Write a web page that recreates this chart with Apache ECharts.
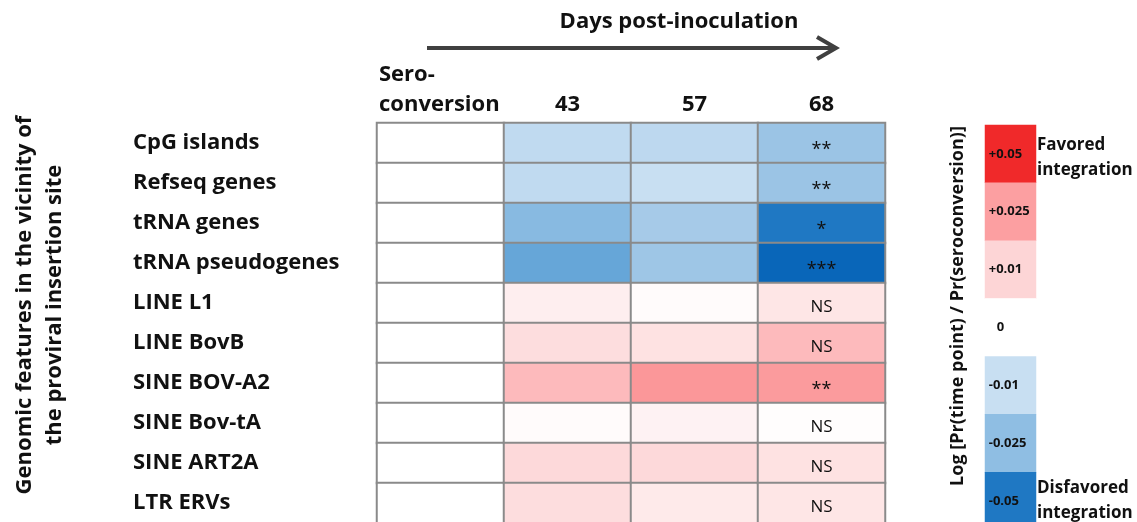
<!DOCTYPE html>
<html>
<head>
<meta charset="utf-8">
<script src="https://cdn.jsdelivr.net/npm/echarts@6/dist/echarts.min.js"></script>
<style>html,body{margin:0;padding:0;background:#fff}#c{width:1137px;height:522px}</style>
</head>
<body>
<div id="c"></div>
<script>
const rows = ['CpG islands','Refseq genes','tRNA genes','tRNA pseudogenes','LINE L1','LINE BovB','SINE BOV-A2','SINE Bov-tA','SINE ART2A','LTR ERVs'];
const colLabels = ['Sero-\nconversion','43','57','68'];
const sero = [0,0,0,0,0,0,0,0,0,0];
const d43 = [-0.012,-0.012,-0.027,-0.035,0.004,0.008,0.018,0.001,0.009,0.008];
const d57 = [-0.013,-0.010,-0.019,-0.021,0.001,0.007,0.027,0.003,0.009,0.005];
const d68 = [-0.022,-0.022,-0.050,-0.057,0.006,0.018,0.026,0.0005,0.007,0.006];
const sig68 = ['**','**','*','***','NS','NS','**','NS','NS','NS'];
const legendTicks = ['+0.05','+0.025','+0.01','0','-0.01','-0.025','-0.05'];
const legendValues = [0.05,0.025,0.01,0,-0.01,-0.025,-0.05];

const FONT = '"Open Sans", sans-serif';
const cols = [sero, d43, d57, d68];
const mainData = [];
cols.forEach((arr, xi) => arr.forEach((v, yi) => mainData.push([xi, yi, v])));
const legendData = legendValues.map((v, i) => [0, i, v]);

const chart = echarts.init(document.getElementById('c'));
chart.setOption({
  backgroundColor: '#fff',
  animation: false,
  grid: [
    {left: 377, width: 508, top: 123, height: 400, outerBoundsMode: 'none', containLabel: false},
    {left: 985, width: 51, top: 125, height: 405, outerBoundsMode: 'none', containLabel: false}
  ],
  xAxis: [
    {type: 'category', gridIndex: 0, position: 'top', data: colLabels,
     axisLine: {show: false}, axisTick: {show: false}, splitLine: {show: false},
     axisLabel: {interval: 0, margin: 3, color: '#111', fontFamily: FONT,
       formatter: (v) => v.indexOf('\n') >= 0 ? v.split('\n').map(s => '{a|' + s + '}').join('\n') : '{b|' + v + '}',
       rich: {
         a: {width: 123, align: 'left', fontSize: 22, fontWeight: 'bold', fontFamily: FONT, lineHeight: 30, color: '#111'},
         b: {fontSize: 22, fontWeight: 'bold', fontFamily: FONT, lineHeight: 30, color: '#111'}
       }}},
    {type: 'category', gridIndex: 1, data: ['k'], show: false}
  ],
  yAxis: [
    {type: 'category', gridIndex: 0, data: rows, inverse: true,
     axisLine: {show: false}, axisTick: {show: false}, splitLine: {show: false},
     axisLabel: {interval: 0, align: 'left', margin: 244, fontSize: 22, fontWeight: 'bold',
       fontFamily: FONT, color: '#111', padding: [0, 0, 4, 0]}},
    {type: 'category', gridIndex: 1, data: legendTicks, inverse: true, show: false}
  ],
  visualMap: {
    type: 'continuous', show: false, seriesIndex: [0, 1], dimension: 2,
    min: -0.06, max: 0.06,
    inRange: {color: ['#005fb5','#1f78c3','#4f98d2','#7db4de','#a2c8e7','#c8dff2','#ffffff',
                      '#fdd5d6','#fdb3b5','#fa8b8d','#f66062','#f0292a','#e01010']}
  },
  series: [
    {type: 'heatmap', xAxisIndex: 0, yAxisIndex: 0, data: mainData,
     itemStyle: {borderColor: '#8a8a8a', borderWidth: 2},
     emphasis: {disabled: true},
     label: {show: true, color: '#111', fontFamily: FONT,
       formatter: (p) => {
         if (p.data[0] !== 3) return '';
         const s = sig68[p.data[1]];
         return s === 'NS' ? '{n|' + s + '}' : '{s|' + s + '}';
       },
       rich: {
         n: {fontSize: 17, fontFamily: FONT, color: '#111', padding: [8, 0, 0, 0]},
         s: {fontSize: 18, fontFamily: FONT, color: '#111', padding: [14, 0, 0, 0]}
       }}},
    {type: 'heatmap', xAxisIndex: 1, yAxisIndex: 1, data: legendData,
     emphasis: {disabled: true},
     label: {show: true, position: 'insideLeft', distance: 4, color: '#111',
       fontFamily: FONT,
       formatter: (p) => {
         const t = legendTicks[p.data[1]];
         return t === '0' ? '{z|' + t + '}' : '{t|' + t + '}';
       },
       rich: {
         t: {fontSize: 13, fontWeight: 'bold', fontFamily: FONT, color: '#111'},
         z: {fontSize: 13, fontWeight: 'bold', fontFamily: FONT, color: '#111', padding: [0, 0, 0, 8]}
       }}}
  ],
  graphic: [
    {type: 'text', x: 679, y: 22, style: {text: 'Days post-inoculation', fontSize: 22, fontWeight: 'bold',
      fontFamily: FONT, fill: '#111', textAlign: 'center', textVerticalAlign: 'middle'}},
    {type: 'line', shape: {x1: 427, y1: 48, x2: 835, y2: 48}, style: {stroke: '#404040', lineWidth: 4}},
    {type: 'polyline', shape: {points: [[817, 37], [836, 48], [817, 59]]},
     style: {stroke: '#404040', lineWidth: 4, fill: null}},
    {type: 'text', x: 40, y: 305, rotation: Math.PI / 2,
     style: {text: 'Genomic features in the vicinity of\nthe proviral insertion site', fontSize: 22,
       fontWeight: 'bold', fontFamily: FONT, fill: '#111', textAlign: 'center', textVerticalAlign: 'middle',
       lineHeight: 30}},
    {type: 'text', x: 958, y: 306, rotation: Math.PI / 2,
     style: {text: 'Log [Pr(time point) / Pr(seroconversion)]', fontSize: 18, fontWeight: 'bold',
       fontFamily: FONT, fill: '#111', textAlign: 'center', textVerticalAlign: 'middle'}},
    {type: 'text', x: 1037, y: 158,
     style: {text: 'Favored\nintegration', fontSize: 17, fontWeight: 'bold', fontFamily: FONT,
       fill: '#111', textAlign: 'left', textVerticalAlign: 'middle', lineHeight: 25}},
    {type: 'text', x: 1037, y: 501,
     style: {text: 'Disfavored\nintegration', fontSize: 17, fontWeight: 'bold', fontFamily: FONT,
       fill: '#111', textAlign: 'left', textVerticalAlign: 'middle', lineHeight: 25}}
  ]
});
</script>
</body>
</html>
